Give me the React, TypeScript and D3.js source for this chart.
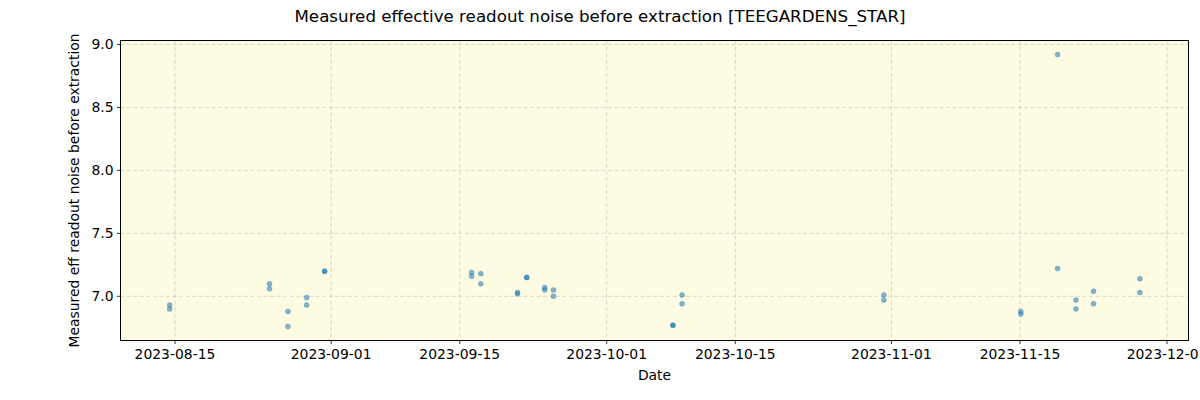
import React from "react";
import * as d3 from "d3";

const obsDates: string[] = [
  "2023-08-14T10:00", "2023-08-14T10:00",
  "2023-08-25T07:00", "2023-08-25T07:00",
  "2023-08-27T07:00", "2023-08-27T07:00",
  "2023-08-29T08:00", "2023-08-29T08:00",
  "2023-08-31T07:00", "2023-08-31T07:00",
  "2023-09-16T07:00", "2023-09-16T07:00",
  "2023-09-17T07:00", "2023-09-17T07:00",
  "2023-09-21T07:00", "2023-09-21T07:00",
  "2023-09-22T07:00", "2023-09-22T07:00",
  "2023-09-24T06:00", "2023-09-24T06:00",
  "2023-09-25T05:00", "2023-09-25T05:00",
  "2023-10-08T05:00", "2023-10-08T05:00",
  "2023-10-09T05:00", "2023-10-09T05:00",
  "2023-10-31T04:00", "2023-10-31T04:00",
  "2023-11-15T02:00", "2023-11-15T02:00",
  "2023-11-19T02:00", "2023-11-19T02:00",
  "2023-11-21T02:00", "2023-11-21T02:00",
  "2023-11-23T00:00", "2023-11-23T00:00",
  "2023-11-28T01:00", "2023-11-28T01:00",
];
const noiseValues: number[] = [
  6.93, 6.90,
  7.10, 7.06,
  6.88, 6.76,
  6.99, 6.93,
  7.20, 7.20,
  7.19, 7.16,
  7.18, 7.10,
  7.03, 7.02,
  7.15, 7.15,
  7.07, 7.05,
  7.05, 7.00,
  6.77, 6.77,
  7.01, 6.94,
  7.01, 6.97,
  6.88, 6.86,
  8.92, 7.22,
  6.97, 6.90,
  7.04, 6.94,
  7.14, 7.03,
];
const xTickDates: string[] = [
  "2023-08-15", "2023-09-01", "2023-09-15", "2023-10-01",
  "2023-10-15", "2023-11-01", "2023-11-15", "2023-12-01",
];
const yTickValues: number[] = [7.0, 7.5, 8.0, 8.5, 9.0];
const xDomain: string[] = ["2023-08-09T01:40", "2023-12-03T08:10"];
const yDomain: number[] = [6.649, 9.032];

const W = 1200, H = 400;
const left = 120.5, right = 1188.5, top = 40.5, bottom = 340.5;
const font = "DejaVu Sans, sans-serif";

export default function App() {
  const parse = (s: string) => new Date(s);
  const x = d3.scaleTime().domain(xDomain.map(parse)).range([left, right]);
  const y = d3.scaleLinear().domain(yDomain).range([bottom, top]);
  const fmt = d3.timeFormat("%Y-%m-%d");
  return (
    <svg width={W} height={H} style={{ position: "absolute", left: 0, top: 0 }} fontFamily={font}>
      <rect x={0} y={0} width={W} height={H} fill="#ffffff" />
      <rect x={left} y={top} width={right - left} height={bottom - top} fill="#fdfbe2" />
      {xTickDates.map((d) => (
        <line key={"gx" + d} x1={x(parse(d))} x2={x(parse(d))} y1={top} y2={bottom}
          stroke="#b0b0b0" strokeOpacity={0.6} strokeDasharray="4,2.5" strokeWidth={0.8} />
      ))}
      {yTickValues.map((v) => (
        <line key={"gy" + v} x1={left} x2={right} y1={y(v)} y2={y(v)}
          stroke="#b0b0b0" strokeOpacity={0.6} strokeDasharray="4,2.5" strokeWidth={0.8} />
      ))}
      {obsDates.map((d, i) => (
        <circle key={"p" + i} cx={x(parse(d))} cy={y(noiseValues[i])} r={2.5}
          fill="#1f77b4" fillOpacity={0.55} stroke="#1f77b4" strokeOpacity={0.55} strokeWidth={0.5} />
      ))}
      <rect x={left} y={top} width={right - left} height={bottom - top} fill="none" stroke="#000" strokeWidth={1} />
      {xTickDates.map((d) => (
        <g key={"tx" + d}>
          <line x1={x(parse(d))} x2={x(parse(d))} y1={bottom} y2={bottom + 3.5} stroke="#000" strokeWidth={0.8} />
          <text x={x(parse(d))} y={bottom + 18} fontSize={13.9} textAnchor="middle" fill="#000">{fmt(parse(d))}</text>
        </g>
      ))}
      {yTickValues.map((v) => (
        <g key={"ty" + v}>
          <line x1={left - 3.5} x2={left} y1={y(v)} y2={y(v)} stroke="#000" strokeWidth={0.8} />
          <text x={left - 7} y={y(v)} dy="0.35em" fontSize={13.9} textAnchor="end" fill="#000">{v.toFixed(1)}</text>
        </g>
      ))}
      <text x={(left + right) / 2} y={380} fontSize={13.9} textAnchor="middle" fill="#000">Date</text>
      <text transform={`translate(79,${(top + bottom) / 2}) rotate(-90)`} fontSize={13.9} textAnchor="middle" fill="#000">
        Measured eff readout noise before extraction
      </text>
      <text x={600} y={22} fontSize={16.7} textAnchor="middle" fill="#000">
        Measured effective readout noise before extraction [TEEGARDENS_STAR]
      </text>
    </svg>
  );
}
